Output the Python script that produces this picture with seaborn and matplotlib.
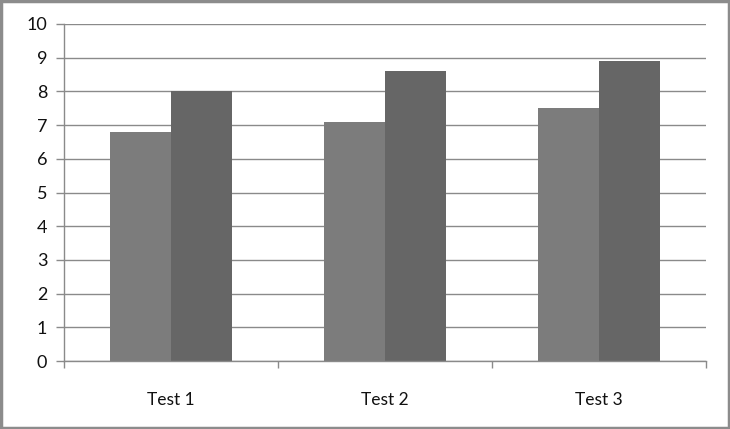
import numpy as np
import pandas as pd
import matplotlib
matplotlib.use("Agg")
import matplotlib.pyplot as plt
import seaborn as sns
from matplotlib.patches import Rectangle

categories = ["Test 1", "Test 2", "Test 3"]
series_a = [6.8, 7.1, 7.5]
series_b = [8.0, 8.6, 8.9]

df = pd.DataFrame({
    "test": categories * 2,
    "value": series_a + series_b,
    "series": ["A"] * 3 + ["B"] * 3,
})

sns.set_style("white")
plt.rcParams["font.family"] = ["Lato", "DejaVu Sans"]

fig = plt.figure(figsize=(7.3, 4.29), dpi=100)
ax = fig.add_axes([64 / 730, 68 / 429, 642 / 730, 337 / 429])

sns.barplot(data=df, x="test", y="value", hue="series",
            palette=["#7c7c7c", "#666666"], width=0.57, gap=0,
            saturation=1, legend=False, linewidth=0, ax=ax)

grid_c = "#8a8a8a"
ax.set_ylim(0, 10)
ax.set_xlim(-0.5, 2.5)
ax.set_yticks(np.arange(0, 11, 1))
ax.yaxis.grid(True, color=grid_c, linewidth=1)
ax.set_axisbelow(True)
ax.set_xlabel("")
ax.set_ylabel("")

for s in ["top", "right"]:
    ax.spines[s].set_visible(False)
for s in ["left", "bottom"]:
    ax.spines[s].set_color(grid_c)
    ax.spines[s].set_linewidth(1)

ax.tick_params(axis="y", length=6, color=grid_c, width=1, pad=6,
               labelsize=13, labelcolor="#111111", left=True)
ax.set_xticks([-0.5, 0.5, 1.5, 2.5], minor=True)
ax.tick_params(axis="x", which="minor", length=5, color=grid_c, width=1, bottom=True)
ax.tick_params(axis="x", which="major", length=0, pad=22,
               labelsize=12.5, labelcolor="#111111")

fig.patches.append(Rectangle((0.002, 0.003), 0.996, 0.994, transform=fig.transFigure,
                             fill=False, edgecolor="#8c8c8c", linewidth=2.5))

fig.savefig("out.png", dpi=100)
